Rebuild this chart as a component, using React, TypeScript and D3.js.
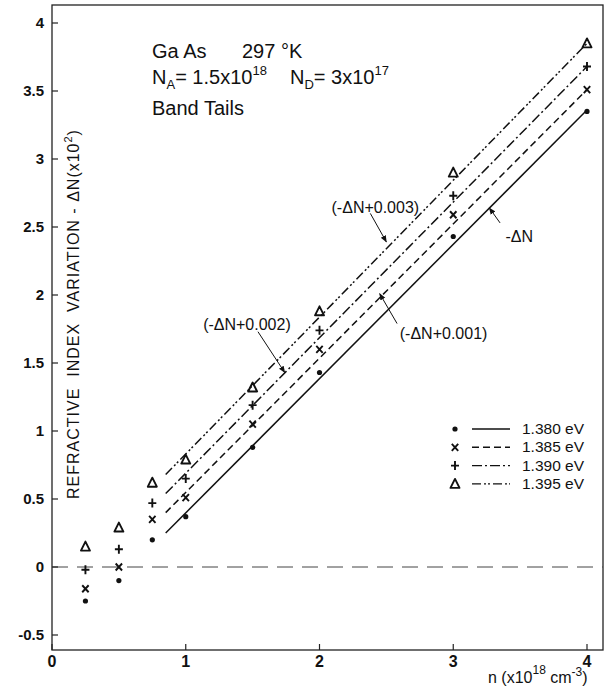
import React from "react";
import * as d3 from "d3";

const nValues = [0.25, 0.5, 0.75, 1, 1.5, 2, 3, 4];
const dn1380 = [-0.25, -0.1, 0.2, 0.37, 0.88, 1.43, 2.43, 3.35];
const dn1385 = [-0.16, 0.0, 0.35, 0.51, 1.05, 1.6, 2.59, 3.51];
const dn1390 = [-0.02, 0.13, 0.47, 0.65, 1.19, 1.74, 2.73, 3.68];
const dn1395 = [0.15, 0.29, 0.62, 0.79, 1.32, 1.88, 2.9, 3.85];

const fitX = [0.85, 4];
const fit1380 = [0.25, 3.36];
const fit1385 = [0.4, 3.51];
const fit1390 = [0.54, 3.68];
const fit1395 = [0.68, 3.85];

const legendLabels = ["1.380 eV", "1.385 eV", "1.390 eV", "1.395 eV"];
const xTicks = [0, 1, 2, 3, 4];
const yTicks = [-0.5, 0, 0.5, 1, 1.5, 2, 2.5, 3, 3.5, 4];
const yTickLabels = ["-0.5", "0", "0.5", "1", "1.5", "2", "2.5", "3", "3.5", "4"];

// annotations in data units: [text, textX, textY, arrowFromX, arrowFromY, arrowToX, arrowToY]
const annotations: [string, number, number, number, number, number, number][] = [
  ["(-ΔN+0.003)", 2.09, 2.6, 2.38, 2.6, 2.5, 2.39],
  ["-ΔN", 3.39, 2.39, 3.35, 2.53, 3.27, 2.64],
  ["(-ΔN+0.002)", 1.13, 1.74, 1.54, 1.73, 1.74, 1.43],
  ["(-ΔN+0.001)", 2.6, 1.68, 2.58, 1.79, 2.45, 2.01],
];

const W = 605;
const H = 689;
const FONT = "'Liberation Sans', Arial, sans-serif";

const x = d3.scaleLinear().domain([0, 4]).range([52, 587]);
const y = d3.scaleLinear().domain([0, 4]).range([567, 23]);
const xMax = x.invert(603);
const yMin = y.invert(650);
const yMax = y.invert(5);

const dashes = ["", "7,4", "10,3,2,3", "9,3,2,2,2,3"];

function Marker({ kind, cx, cy }: { kind: number; cx: number; cy: number }) {
  const c = "#111";
  if (kind === 0) return <circle cx={cx} cy={cy} r={2.6} fill={c} />;
  if (kind === 1)
    return (
      <path d={`M${cx - 3.2},${cy - 3.5}L${cx + 3.2},${cy + 3.5}M${cx + 3.2},${cy - 3.5}L${cx - 3.2},${cy + 3.5}`} stroke={c} strokeWidth={1.9} />
    );
  if (kind === 2)
    return (
      <path d={`M${cx - 4},${cy}L${cx + 4},${cy}M${cx},${cy - 4.5}L${cx},${cy + 4.5}`} stroke={c} strokeWidth={1.9} />
    );
  return (
    <path d={`M${cx},${cy - 5}L${cx + 4.5},${cy + 4}L${cx - 4.5},${cy + 4}Z`} fill="none" stroke={c} strokeWidth={1.9} strokeLinejoin="round" />
  );
}

export default function App() {
  const series = [dn1380, dn1385, dn1390, dn1395];
  const fits = [fit1380, fit1385, fit1390, fit1395];
  const line = d3
    .line<[number, number]>()
    .x((d) => x(d[0]))
    .y((d) => y(d[1]));

  return (
    <svg
      width={W}
      height={H}
      style={{ position: "fixed", left: 0, top: 0, background: "#fff" }}
      fontFamily={FONT}
    >
      <defs>
        <marker id="ah" viewBox="0 0 10 10" refX="9" refY="5" markerWidth="7" markerHeight="7" orient="auto">
          <path d="M0,1L10,5L0,9Z" fill="#111" />
        </marker>
      </defs>
      <rect x={0} y={0} width={W} height={H} fill="#fff" />
      {/* frame */}
      <rect x={x(0)} y={y(yMax)} width={x(xMax) - x(0)} height={y(yMin) - y(yMax)} fill="none" stroke="#222" strokeWidth={1.3} />
      {/* zero line */}
      <line x1={x(0)} x2={x(xMax)} y1={y(0)} y2={y(0)} stroke="#444" strokeWidth={1} strokeDasharray="16,9" />
      {/* y ticks */}
      {yTicks.map((t, i) => (
        <g key={"y" + i}>
          <line x1={x(0)} x2={x(0) + 6} y1={y(t)} y2={y(t)} stroke="#222" strokeWidth={1.2} />
          <text x={x(0) - 8} y={y(t) + 5} textAnchor="end" fontSize={15} fill="#111" fontWeight={700}>
            {yTickLabels[i]}
          </text>
        </g>
      ))}
      {/* x ticks */}
      {xTicks.map((t) => (
        <g key={"x" + t}>
          <line x1={x(t)} x2={x(t)} y1={y(yMin)} y2={y(yMin) - 6} stroke="#222" strokeWidth={1.2} />
          <text x={x(t)} y={y(yMin) + 17} textAnchor="middle" fontSize={16} fill="#111" fontWeight={700}>
            {t}
          </text>
        </g>
      ))}
      {/* fit lines */}
      {fits.map((f, i) => (
        <path
          key={"f" + i}
          d={line([
            [fitX[0], f[0]],
            [fitX[1], f[1]],
          ]) as string}
          fill="none"
          stroke="#111"
          strokeWidth={1.5}
          strokeDasharray={dashes[i] || undefined}
        />
      ))}
      {/* data markers */}
      {series.map((s, k) =>
        s.map((v, i) => <Marker key={k + "-" + i} kind={k} cx={x(nValues[i])} cy={y(v)} />)
      )}
      {/* annotations */}
      {annotations.map((a, i) => (
        <g key={"a" + i}>
          <text x={x(a[1])} y={y(a[2])} fontSize={16} fill="#111">
            {a[0]}
          </text>
          <line x1={x(a[3])} y1={y(a[4])} x2={x(a[5])} y2={y(a[6])} stroke="#111" strokeWidth={1} markerEnd="url(#ah)" />
        </g>
      ))}
      {/* header text */}
      <g fill="#111" fontSize={20}>
        <text x={152} y={58}>Ga As</text>
        <text x={242} y={58}>297 °K</text>
        <text x={152} y={84}>
          N<tspan fontSize={13} dy={5}>A</tspan>
          <tspan dy={-5}>= 1.5x10</tspan>
          <tspan fontSize={13} dy={-9}>18</tspan>
        </text>
        <text x={290} y={84}>
          N<tspan fontSize={13} dy={5}>D</tspan>
          <tspan dy={-5}>= 3x10</tspan>
          <tspan fontSize={13} dy={-9}>17</tspan>
        </text>
        <text x={152} y={115}>Band Tails</text>
      </g>
      {/* legend */}
      {legendLabels.map((lab, i) => {
        const ly = 429 + i * 18.3;
        return (
          <g key={"l" + i}>
            <Marker kind={i} cx={455} cy={ly} />
            <line x1={472} x2={510} y1={ly} y2={ly} stroke="#111" strokeWidth={1.4} strokeDasharray={dashes[i] || undefined} />
            <text x={522} y={ly + 5} fontSize={15.5} fill="#111">
              {lab}
            </text>
          </g>
        );
      })}
      {/* y axis label */}
      <text
        transform="translate(79,314) rotate(-90)"
        textAnchor="middle"
        fontSize={16}
        fill="#111"
        letterSpacing={1}
        style={{ whiteSpace: "pre" }}
      >
        {"REFRACTIVE  INDEX  VARIATION - ΔN(x10"}
        <tspan fontSize={11} dy={-7}>2</tspan>
        <tspan dy={7}>)</tspan>
      </text>
      {/* x axis label */}
      <text x={488} y={683} fontSize={16} fill="#111">
        n (x10<tspan fontSize={12} dy={-9}>18</tspan>
        <tspan dy={9}> cm</tspan>
        <tspan fontSize={12} dy={-7}>-3</tspan>
        <tspan dy={7}>)</tspan>
      </text>
    </svg>
  );
}
